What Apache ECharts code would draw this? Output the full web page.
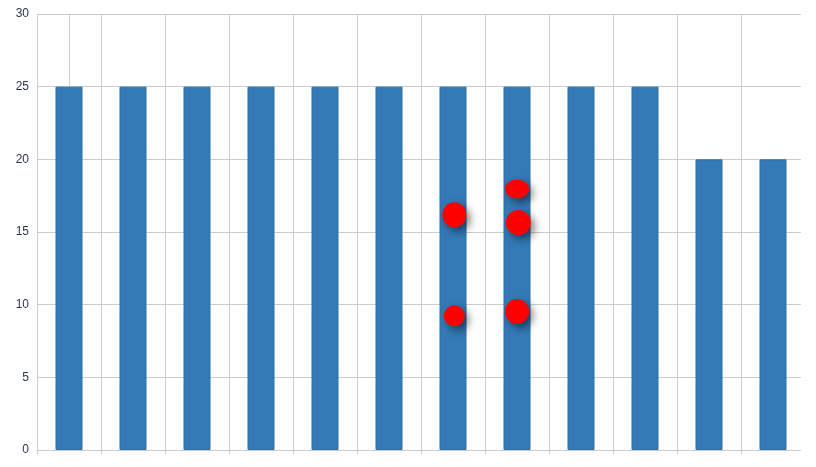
<!DOCTYPE html>
<html><head><meta charset="utf-8">
<script src="https://cdn.jsdelivr.net/npm/echarts@6/dist/echarts.min.js"></script>
<style>html,body{margin:0;padding:0;background:#fff}#c{width:816px;height:467px}</style>
</head><body><div id="c"></div>
<script>
const categories = ['1','2','3','4','5','6','7','8','9','10','11','12'];
const barValues = [25,25,25,25,25,25,25,25,25,25,20,20];
const pointX = [6.02, 6.02, 7.0, 7.02, 7.0];
const pointY = [16.18, 9.23, 17.96, 15.65, 9.53];
const pointSize = [[24,25],[21,21],[24,19],[25,25],[24,25]];
const yTicks = [0,5,10,15,20,25,30];

const chart = echarts.init(document.getElementById('c'));
chart.setOption({
  animation:false,
  grid:{left:37,right:11,top:14,bottom:17},
  graphic:[{type:'rect',right:0,top:0,shape:{width:15,height:467},style:{fill:'#fff'},z:100}],
  xAxis:[{
    type:'category', data:categories,
    axisLine:{lineStyle:{color:'#ccc'}},
    axisTick:{show:true,length:4,lineStyle:{color:'#ccc'}},
    axisLabel:{show:false},
    splitLine:{show:true,lineStyle:{color:'#ccc'}}
  },{
    type:'value', min:-0.5, max:11.5, show:false
  }],
  yAxis:{
    type:'value', min:yTicks[0], max:yTicks[yTicks.length-1], interval:5,
    axisLine:{show:true,lineStyle:{color:'#ccc'}},
    axisTick:{show:true,length:4,lineStyle:{color:'#ccc'}},
    axisLabel:{color:'#2a3550',fontSize:12,fontFamily:'Arial, Liberation Sans, sans-serif',margin:8},
    splitLine:{lineStyle:{color:'#ccc'}}
  },
  series:[{
    type:'bar', data:barValues, barWidth:27, xAxisIndex:0,
    itemStyle:{color:'#337ab7',borderColor:'#2e6da4',borderWidth:1}
  },{
    type:'scatter', xAxisIndex:1,
    data:pointX.map((x,i)=>({value:[x,pointY[i]],symbolSize:pointSize[i]})),
    itemStyle:{color:'#ff0000',opacity:1,shadowBlur:8,shadowOffsetX:4,shadowOffsetY:4,shadowColor:'rgba(0,0,0,0.5)'}
  }]
});
</script></body></html>
